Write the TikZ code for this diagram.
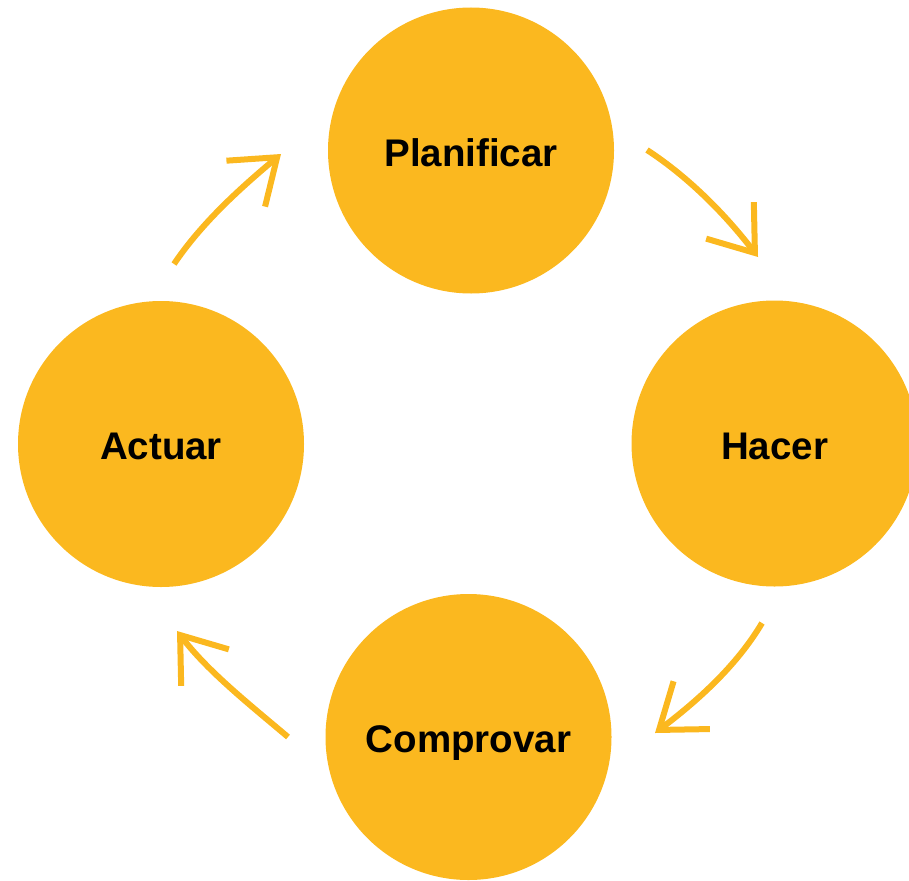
\documentclass[tikz,border=0pt]{standalone}
\usepackage{fontspec}
\setmainfont{Liberation Sans}
\usetikzlibrary{arrows.meta}
\definecolor{pdca}{HTML}{FBB81F}
\tikzset{
  phase/.style={circle, fill=pdca, draw=none, minimum size=286pt, inner sep=0pt,
    font=\fontsize{38.5}{41}\selectfont\bfseries, text=black,
    text height=31pt, text depth=0pt},
  cyc/.style={draw=pdca, line width=6pt,
    -{Straight Barb[length=41pt, width=60pt, line width=6pt]}}
}
\begin{document}
\begin{tikzpicture}[x=1pt,y=-1pt]
\useasboundingbox (0,0) rectangle (909,880);
\node[phase] (plan) at (471,150.5) {Planificar};
\node[phase] (hacer) at (774.5,443.5) {Hacer};
\node[phase] (comp) at (468.5,737) {Comprovar};
\node[phase] (act) at (161,444) {Actuar};
% arrow end points
\coordinate (a1s) at (174,264);  \coordinate (a1e) at (281,154);
\coordinate (a2s) at (647,150);  \coordinate (a2e) at (758,257);
\coordinate (a3s) at (762,623);  \coordinate (a3e) at (655,733);
\coordinate (a4s) at (288,737);  \coordinate (a4e) at (177,631);
\draw[cyc] (a1s) .. controls (202.5,221.7) and (242,186.8) .. (a1e);
\draw[cyc] (a2s) .. controls (690,178) and (727,216.5) .. (a2e);
\draw[cyc] (a3s) .. controls (736,667) and (695.6,702.2) .. (a3e);
\draw[cyc] (a4s) .. controls (249,704) and (208,671.5) .. (a4e);
\end{tikzpicture}
\end{document}
